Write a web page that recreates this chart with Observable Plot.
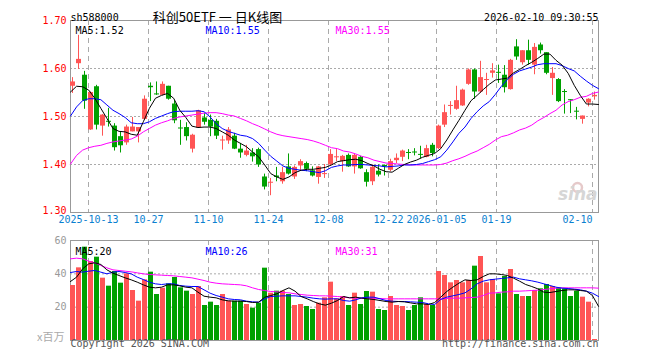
<!DOCTYPE html>
<html><head><meta charset="utf-8">
<script src="https://cdn.jsdelivr.net/npm/d3@7"></script>
<script src="https://cdn.jsdelivr.net/npm/@observablehq/plot@0.6"></script>
<style>
body{margin:0;background:#fff;}
#wrap{position:relative;width:660px;height:360px;overflow:hidden;background:#fff;}
#wrap svg{position:absolute;left:0;}
</style></head><body><div id="wrap"></div>
<script>
// ---- data ----
const symbol = "sh588000";
const title = "科创50ETF 一 日K线图";
const stamp = "2026-02-10 09:30:55";
const tickIdx = [3, 13, 23, 33, 43, 53, 61, 71, 87];
const tickLabels = ["2025-10-13","10-27","11-10","11-24","12-08","12-22","2026-01-05","01-19","02-10"];
const priceTicks = [1.30, 1.40, 1.50, 1.60, 1.70];
const volTicks = [20, 40, 60];

const openP = [1.563,1.610,1.586,1.472,1.562,1.480,1.490,1.480,1.458,1.445,
1.468,1.468,1.494,1.563,1.547,1.544,1.563,1.526,1.476,1.477,
1.432,1.476,1.497,1.492,1.490,1.449,1.449,1.459,1.432,1.419,
1.424,1.431,1.374,1.361,1.376,1.364,1.395,1.374,1.397,1.402,
1.387,1.373,1.379,1.399,1.414,1.406,1.419,1.395,1.415,1.383,
1.364,1.386,1.398,1.388,1.408,1.415,1.425,1.426,1.421,1.415,
1.440,1.433,1.482,1.521,1.515,1.522,1.567,1.597,1.551,1.575,
1.590,1.592,1.586,1.556,1.645,1.612,1.637,1.607,1.649,1.633,
1.579,1.577,1.552,1.535,1.511,1.494,1.528,1.541];
const highP = [1.581,1.669,1.594,1.551,1.565,1.504,1.517,1.485,1.468,1.482,
1.498,1.477,1.543,1.570,1.572,1.572,1.563,1.533,1.492,1.487,
1.463,1.513,1.506,1.503,1.494,1.459,1.477,1.465,1.444,1.440,
1.433,1.434,1.380,1.371,1.394,1.394,1.422,1.397,1.410,1.405,
1.395,1.396,1.400,1.431,1.431,1.419,1.422,1.422,1.417,1.389,
1.399,1.399,1.399,1.411,1.422,1.430,1.431,1.433,1.438,1.440,
1.444,1.482,1.524,1.531,1.563,1.557,1.599,1.599,1.615,1.590,
1.610,1.607,1.606,1.619,1.660,1.637,1.659,1.652,1.653,1.633,
1.602,1.579,1.556,1.535,1.519,1.501,1.537,1.551];
const lowP = [1.548,1.598,1.515,1.471,1.472,1.459,1.478,1.428,1.424,1.440,
1.468,1.445,1.493,1.531,1.544,1.543,1.534,1.485,1.440,1.449,
1.424,1.475,1.482,1.458,1.452,1.430,1.442,1.431,1.413,1.416,
1.405,1.394,1.347,1.335,1.364,1.359,1.378,1.369,1.387,1.385,
1.374,1.359,1.371,1.397,1.406,1.384,1.394,1.380,1.390,1.353,
1.356,1.374,1.376,1.385,1.402,1.406,1.410,1.418,1.412,1.414,
1.416,1.431,1.477,1.503,1.513,1.521,1.565,1.536,1.548,1.544,
1.580,1.569,1.549,1.555,1.617,1.607,1.607,1.587,1.630,1.587,
1.544,1.529,1.505,1.506,1.493,1.484,1.520,1.534];
const closeP = [1.572,1.619,1.532,1.550,1.482,1.503,1.488,1.435,1.439,1.478,
1.478,1.477,1.536,1.560,1.545,1.567,1.536,1.491,1.474,1.458,
1.461,1.512,1.488,1.478,1.459,1.451,1.472,1.432,1.424,1.428,
1.416,1.399,1.353,1.363,1.373,1.383,1.380,1.394,1.406,1.390,
1.376,1.395,1.381,1.421,1.416,1.417,1.395,1.419,1.391,1.363,
1.394,1.378,1.395,1.406,1.413,1.428,1.423,1.424,1.419,1.433,
1.423,1.480,1.508,1.523,1.533,1.555,1.597,1.551,1.581,1.577,
1.595,1.590,1.560,1.617,1.624,1.637,1.617,1.644,1.637,1.590,
1.590,1.531,1.550,1.533,1.509,1.501,1.536,1.544];
const volume = [33,43.6,56,47.4,50,37.4,32.6,41.4,34.4,40,
30,23.6,36.4,41,27.6,31.4,34,37.8,31.6,29.6,
27.6,32.4,21,23,21,27.6,23.6,23.6,23.6,21.6,
19.4,22.4,43.4,28.4,29.6,29.6,27.6,21,21.6,20.4,
18.6,22.4,25.6,35,25,26.4,21,28.4,21.6,29.4,
29,18.6,18,26.4,21,20.4,18,21,25.6,21.6,
21,41.4,39,34.6,36,34.6,36,44.6,50.4,34.6,
36.6,28,38.4,42.6,27.6,26.4,26.4,30,31,33.6,
32.4,31.4,31,26.4,29.6,26,23,0.6];
const ma5 = [1.551,1.563,1.562,1.555,1.538,1.517,1.496,1.475,1.469,1.468,
1.463,1.461,1.489,1.517,1.538,1.544,1.548,1.538,1.513,1.498,
1.480,1.477,1.478,1.478,1.475,1.468,1.461,1.451,1.444,1.437,
1.426,1.416,1.399,1.381,1.374,1.369,1.374,1.383,1.388,1.390,
1.390,1.392,1.394,1.399,1.406,1.408,1.410,1.411,1.408,1.402,
1.397,1.390,1.385,1.384,1.392,1.400,1.405,1.409,1.415,1.419,
1.423,1.433,1.451,1.472,1.492,1.513,1.533,1.544,1.556,1.567,
1.576,1.578,1.580,1.591,1.598,1.606,1.613,1.621,1.630,1.630,
1.617,1.607,1.590,1.565,1.544,1.526,1.526,1.525];
const ma10 = [1.501,1.520,1.533,1.537,1.537,1.535,1.524,1.513,1.506,1.498,
1.487,1.485,1.485,1.489,1.496,1.501,1.506,1.510,1.511,1.511,
1.511,1.512,1.510,1.499,1.485,1.475,1.469,1.465,1.461,1.459,
1.454,1.444,1.430,1.417,1.407,1.397,1.392,1.390,1.388,1.387,
1.385,1.383,1.387,1.394,1.397,1.399,1.399,1.400,1.400,1.399,
1.398,1.397,1.395,1.396,1.397,1.399,1.399,1.400,1.402,1.406,
1.410,1.416,1.430,1.447,1.465,1.478,1.496,1.510,1.522,1.531,
1.546,1.563,1.577,1.588,1.595,1.599,1.603,1.608,1.610,1.610,
1.610,1.606,1.600,1.595,1.584,1.574,1.565,1.558];
const ma30 = [1.401,1.419,1.430,1.435,1.438,1.440,1.444,1.447,1.449,1.451,
1.453,1.459,1.468,1.475,1.482,1.487,1.491,1.496,1.499,1.501,
1.503,1.505,1.507,1.508,1.508,1.506,1.503,1.501,1.496,1.491,
1.485,1.480,1.474,1.468,1.463,1.460,1.458,1.456,1.454,1.452,
1.449,1.445,1.440,1.435,1.433,1.428,1.426,1.422,1.417,1.414,
1.409,1.406,1.403,1.402,1.401,1.400,1.399,1.399,1.399,1.399,
1.399,1.400,1.403,1.408,1.412,1.417,1.423,1.428,1.435,1.442,
1.451,1.458,1.461,1.466,1.472,1.476,1.482,1.491,1.498,1.506,
1.513,1.524,1.531,1.535,1.540,1.542,1.548,1.551];
const vma5 = [35.4,38,43,46,46.6,45.6,42.4,40.4,39,37.6,
36.4,35,33.4,32,31.6,32,33.4,33.4,32.8,32,
31.6,29,26.6,26,25.6,24.4,23.8,23.6,23.6,23.4,
22.8,23,26,27,28,30,31.6,29.6,26.4,25,
23.4,22,21.2,22.4,24,26.4,25.6,26,25.4,25,
24.6,24,23.4,23,23.4,23.2,22.6,22,22,21.6,
22.8,26,29.4,32,34.4,36.4,36,36.4,38.4,40,
40,39.6,39,37.4,35.6,33.6,32.4,31,29,28.8,
29.4,30,30.4,30.4,30,29.6,27,20.5];
const vma10 = [40.8,41.4,41,41.6,42,41,40,41,41.4,40.8,
40,38,36.6,35,34,33.6,34,34,33,32.6,
32.4,32.4,30.4,28.4,27,26,25,24.6,24.4,23.6,
23.2,23,25,26.4,26.6,26.8,26.8,26.8,26.4,26,
25.4,25,24.8,25,25,24,23.6,24.4,25.6,26,
26,25,24,23.6,23.4,23.4,23.2,23,22.8,22,
21.6,24.6,26,26.8,27.6,28.6,31,34,35.6,36.4,
36.8,37.2,37.6,38,37,36.4,35.8,35,34,33,
32,31.4,31.2,30.8,30.4,29.6,28.4,26.4];
const vma30 = [49,49.4,49,47.6,46.6,45,43.6,42.4,42,41.6,
41.2,40.6,40,39.6,39.4,39.2,39,38.8,38.4,38,
37.6,36.8,36,35,34.4,34,33.8,33.6,33.4,32.8,
31.6,30.6,30,29.4,29.2,28.8,28.6,28,27.6,27.2,
27,26.8,26.8,26.6,26.4,26,25.6,25.4,25.4,25.4,
25.4,25.2,25,25,25,25,25,25,25,25,
25,25,25.2,25.4,25.4,25.6,25.8,26,27,28.4,
28.6,29,29.2,29.6,29.6,29.8,30,30.2,30.6,31,
31.4,31.6,31.6,31.6,31.6,31.6,31.6,31.4];
const priceLegend = ["MA5:1.52", "MA10:1.55", "MA30:1.55"];
const volLegend = ["MA5:20", "MA10:26", "MA30:31"];

// ---- build ----
const N = openP.length;
const rows = d3.range(N).map(i => ({
  i, o: openP[i], h: highP[i], l: lowP[i], c: closeP[i], v: volume[i],
  m5: ma5[i], m10: ma10[i], m30: ma30[i], v5: vma5[i], v10: vma10[i], v30: vma30[i]
}));
const ticks = tickIdx.map((i, k) => ({i, label: tickLabels[k]}));
const RED = "#ff5555", GREEN = "#00a000", BLUE = "#0000ff", MAG = "#ff00ff";
const col = d => d.c >= d.o ? RED : GREEN;
const mono = "DejaVu Sans Mono";
const LX = d => d.i * 88 / 87;
const bodyLo = d => Math.abs(d.c - d.o) < 0.0021 ? (d.c + d.o) / 2 - 0.00105 : Math.min(d.o, d.c);
const bodyHi = d => Math.abs(d.c - d.o) < 0.0021 ? (d.c + d.o) / 2 + 0.00105 : Math.max(d.o, d.c);
const legendColors = ["#000", BLUE, MAG];

const price = Plot.plot({
  width: 660, height: 230, marginLeft: 70, marginRight: 62, marginTop: 20, marginBottom: 18,
  x: {domain: [0, 88], axis: null},
  y: {domain: [1.3, 1.7], axis: null},
  color: {type: "identity"},
  style: {fontFamily: mono, fontSize: "10px", background: "transparent", overflow: "visible"},
  marks: [
    Plot.ruleY([1.4, 1.5, 1.6], {stroke: "#aaa", strokeDasharray: "2,2"}),
    Plot.ruleX(ticks, {x: "i", stroke: "#aaa", strokeDasharray: "5,4"}),
    Plot.frame({stroke: "#999"}),
    Plot.dot([0], {frameAnchor: "bottom-right", dx: -21, dy: -25, r: 4.5, stroke: "#e6caca", strokeWidth: 2.5}),
    Plot.text(["sina"], {text: d => d, frameAnchor: "bottom-right", dx: -1, dy: -13, textAnchor: "end",
      fontSize: 17, fontWeight: "bold", fontStyle: "italic", fontFamily: "DejaVu Sans", fill: "#d6d6d6"}),
    Plot.ruleX(rows, {x: d => d.i + 2 / 6, y1: "l", y2: "h", stroke: col}),
    Plot.rect(rows, {x1: "i", x2: d => d.i + 5 / 6, y1: bodyLo, y2: bodyHi, fill: col}),
    Plot.line(rows, {x: LX, y: "m30", stroke: MAG, strokeWidth: 1}),
    Plot.line(rows, {x: LX, y: "m10", stroke: BLUE, strokeWidth: 1}),
    Plot.line(rows, {x: LX, y: "m5", stroke: "#000", strokeWidth: 1}),
    Plot.text(priceTicks.slice(1), {y: d => d, text: d => d.toFixed(2), frameAnchor: "left", dx: -4, textAnchor: "end", fill: "#ff0000"}),
    Plot.text(priceTicks.slice(0, 1), {y: d => d, text: d => d.toFixed(2), frameAnchor: "left", dx: -4, dy: -2, textAnchor: "end", fill: "#ff0000"}),
    Plot.text(ticks.slice(0, -1), {x: "i", text: "label", frameAnchor: "bottom", dy: 10.5, fill: "#0a80d0"}),
    Plot.text(ticks.slice(-1), {x: "i", text: "label", frameAnchor: "bottom", dy: 10.5, textAnchor: "end", fill: "#0a80d0"}),
    Plot.text([symbol], {text: d => d, frameAnchor: "top-left", dy: -7, textAnchor: "start", fill: "#000"}),
    Plot.text([title], {text: d => d, frameAnchor: "top-left", dx: 147, dy: -8, textAnchor: "middle", fill: "#000",
      fontFamily: "Noto Sans CJK SC", fontSize: 13}),
    Plot.text([stamp], {text: d => d, frameAnchor: "top-right", dy: -7, textAnchor: "end", fill: "#000"}),
    ...priceLegend.map((t, k) => Plot.text([t], {text: d => d, frameAnchor: "top-left", dx: 5 + 130 * k, dy: 6.5,
      textAnchor: "start", fill: legendColors[k]}))
  ]
});
price.style.top = "0px";

const vol = Plot.plot({
  width: 660, height: 130, marginLeft: 70, marginRight: 62, marginTop: 10, marginBottom: 20,
  x: {domain: [0, 88], axis: null},
  y: {domain: [0, 60], axis: null},
  color: {type: "identity"},
  style: {fontFamily: mono, fontSize: "10px", background: "transparent", overflow: "visible"},
  marks: [
    Plot.ruleY([20, 40], {stroke: "#aaa", strokeDasharray: "2,2"}),
    Plot.ruleX(ticks, {x: "i", stroke: "#aaa", strokeDasharray: "5,4"}),
    Plot.frame({stroke: "#999"}),
    Plot.rect(rows, {x1: "i", x2: d => d.i + 5 / 6, y1: 0, y2: "v", fill: col}),
    Plot.line(rows, {x: LX, y: "v30", stroke: MAG, strokeWidth: 1}),
    Plot.line(rows, {x: LX, y: "v10", stroke: BLUE, strokeWidth: 1}),
    Plot.line(rows, {x: LX, y: "v5", stroke: "#000", strokeWidth: 1}),
    Plot.text(volTicks, {y: d => d, text: d => String(d), frameAnchor: "left", dx: -4, textAnchor: "end", fill: "#999"}),
    Plot.text(["x百万"], {text: d => d, frameAnchor: "bottom-left", dx: -6, textAnchor: "end", fill: "#aaa",
      fontFamily: "Noto Sans CJK SC", fontSize: 11}),
    Plot.text(["Copyright 2026 SINA.COM"], {text: d => d, frameAnchor: "bottom-left", dy: 6, textAnchor: "start", fill: "#555"}),
    Plot.text(["http://finance.sina.com.cn"], {text: d => d, frameAnchor: "bottom-right", dy: 6, textAnchor: "end", fill: "#555"}),
    ...volLegend.map((t, k) => Plot.text([t], {text: d => d, frameAnchor: "top-left", dx: 5 + 130 * k, dy: 7,
      textAnchor: "start", fill: legendColors[k]}))
  ]
});
vol.style.top = "230px";

const wrap = document.getElementById("wrap");
wrap.appendChild(price);
wrap.appendChild(vol);
</script>
</body></html>
